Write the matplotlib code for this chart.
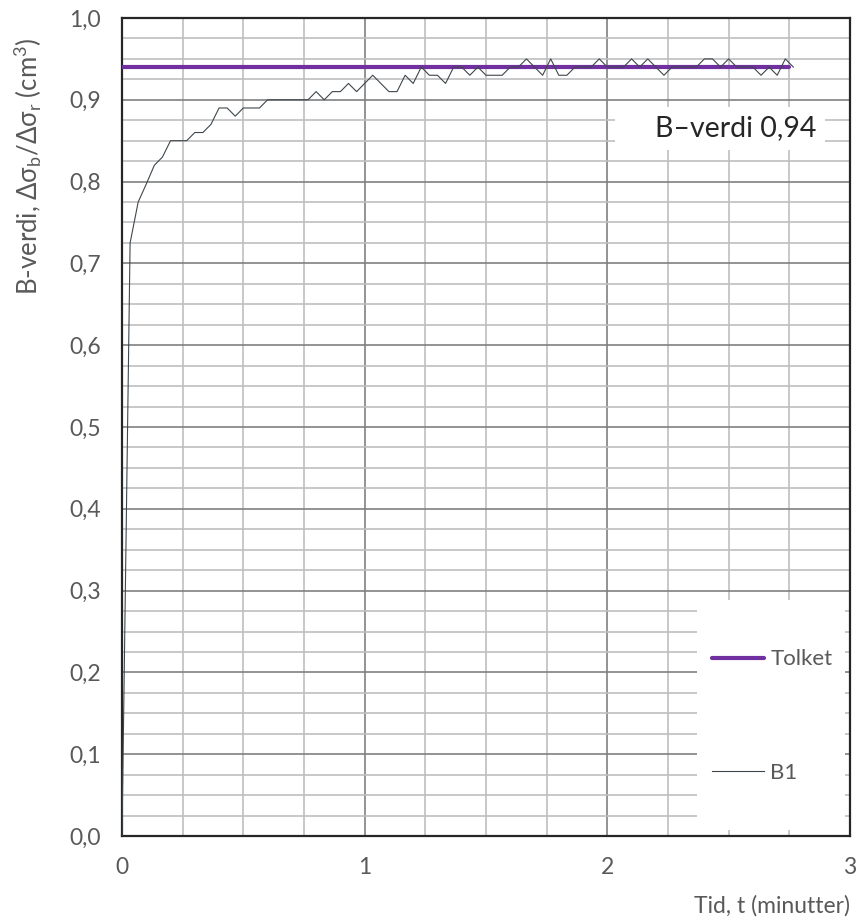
import numpy as np
import matplotlib
matplotlib.use('Agg')
import matplotlib.pyplot as plt
import matplotlib.patches as ptch
from matplotlib.ticker import MultipleLocator, FuncFormatter

# DATA
# B1 readings, one every 2 seconds (time in minutes)
b1_vals = [0.00, 0.725, 0.775, 0.797, 0.82, 0.83, 0.85, 0.85, 0.85, 0.86,
           0.86, 0.87, 0.89, 0.89, 0.88, 0.89, 0.89, 0.89, 0.90, 0.90,
           0.90, 0.90, 0.90, 0.90, 0.91, 0.90, 0.91, 0.91, 0.92, 0.91,
           0.92, 0.93, 0.92, 0.91, 0.91, 0.93, 0.92, 0.94, 0.93, 0.93,
           0.92, 0.94, 0.94, 0.93, 0.94, 0.93, 0.93, 0.93, 0.94, 0.94,
           0.95, 0.94, 0.93, 0.95, 0.93, 0.93, 0.94, 0.94, 0.94, 0.95,
           0.94, 0.94, 0.94, 0.95, 0.94, 0.95, 0.94, 0.93, 0.94, 0.94,
           0.94, 0.94, 0.95, 0.95, 0.94, 0.95, 0.94, 0.94, 0.94, 0.93,
           0.94, 0.93, 0.95, 0.94]
b1_time = np.arange(len(b1_vals)) * 2 / 60.0
tolket_time = [0.0, 2.75]
tolket_vals = [0.94, 0.94]
b_label = 'B\u2013verdi 0,94'

# STYLE
plt.rcParams['font.family'] = ['Lato', 'DejaVu Sans']
plt.rcParams['mathtext.default'] = 'regular'
txt_color = '#595959'

fig = plt.figure(figsize=(8.66, 9.21), dpi=100)
ax = fig.add_axes([122/866, 1 - 836/921, 728/866, 818/921])

ax.set_xlim(0, 3)
ax.set_ylim(0, 1.0)
ax.xaxis.set_major_locator(MultipleLocator(1))
ax.xaxis.set_minor_locator(MultipleLocator(0.25))
ax.yaxis.set_major_locator(MultipleLocator(0.1))
ax.yaxis.set_minor_locator(MultipleLocator(0.025))
ax.yaxis.set_major_formatter(FuncFormatter(lambda v, p: ('%.1f' % v).replace('.', ',')))
ax.xaxis.set_major_formatter(FuncFormatter(lambda v, p: '%d' % round(v)))

ax.set_axisbelow(True)
ax.grid(which='major', color='#808080', lw=1.2)
ax.grid(which='minor', color='#bfbfbf', lw=1.2)
ax.tick_params(which='both', length=0)
ax.tick_params(axis='y', pad=15, labelsize=16.5, labelcolor=txt_color)
ax.tick_params(axis='x', pad=15, labelsize=16.5, labelcolor=txt_color)
for s in ax.spines.values():
    s.set_color('#262626')
    s.set_linewidth(1.6)

# plot lines
tolket_line, = ax.plot(tolket_time, tolket_vals, color='#7030a0', lw=3.0,
                       solid_capstyle='round', zorder=3)
b1_line, = ax.plot(b1_time, b1_vals, color='#3e474d', lw=0.8, zorder=4)

# legend box (white, covers grid)
ax.add_patch(ptch.Rectangle(((697-122)/728, (836-830)/818), (845-697)/728, (830-600)/818,
                            transform=ax.transAxes, facecolor='white', edgecolor='none', zorder=1))
leg = ax.legend(handles=[tolket_line, b1_line], labels=['Tolket', 'B1'],
                loc='center left', bbox_to_anchor=((712-122)/728, (836-716)/818),
                frameon=False, fontsize=16, labelcolor=txt_color,
                handlelength=2.35, handletextpad=0.28, labelspacing=4.2,
                borderpad=0, borderaxespad=0)
leg.set_zorder(5)

# B-value label box
ax.add_patch(ptch.Rectangle(((615-122)/728, (836-150)/818), (825-615)/728, (150-107)/818,
                            transform=ax.transAxes, facecolor='white', edgecolor='none', zorder=1))
ax.text((736-122)/728, (836-128)/818, b_label, transform=ax.transAxes,
        ha='center', va='center', fontsize=20.5, color='#262626', zorder=5)

# axis labels
fig.text(28/866, 1 - 166/921, 'B-verdi, \u0394\u03c3$_b$/\u0394\u03c3$_r$ (cm$^3$)',
         rotation=90, ha='center', va='center', fontsize=18.5, color=txt_color)
fig.text(850/866, 1 - 906/921, 'Tid, t (minutter)', ha='right', va='center',
         fontsize=16.5, color=txt_color)

fig.savefig('out.png', dpi=100)
